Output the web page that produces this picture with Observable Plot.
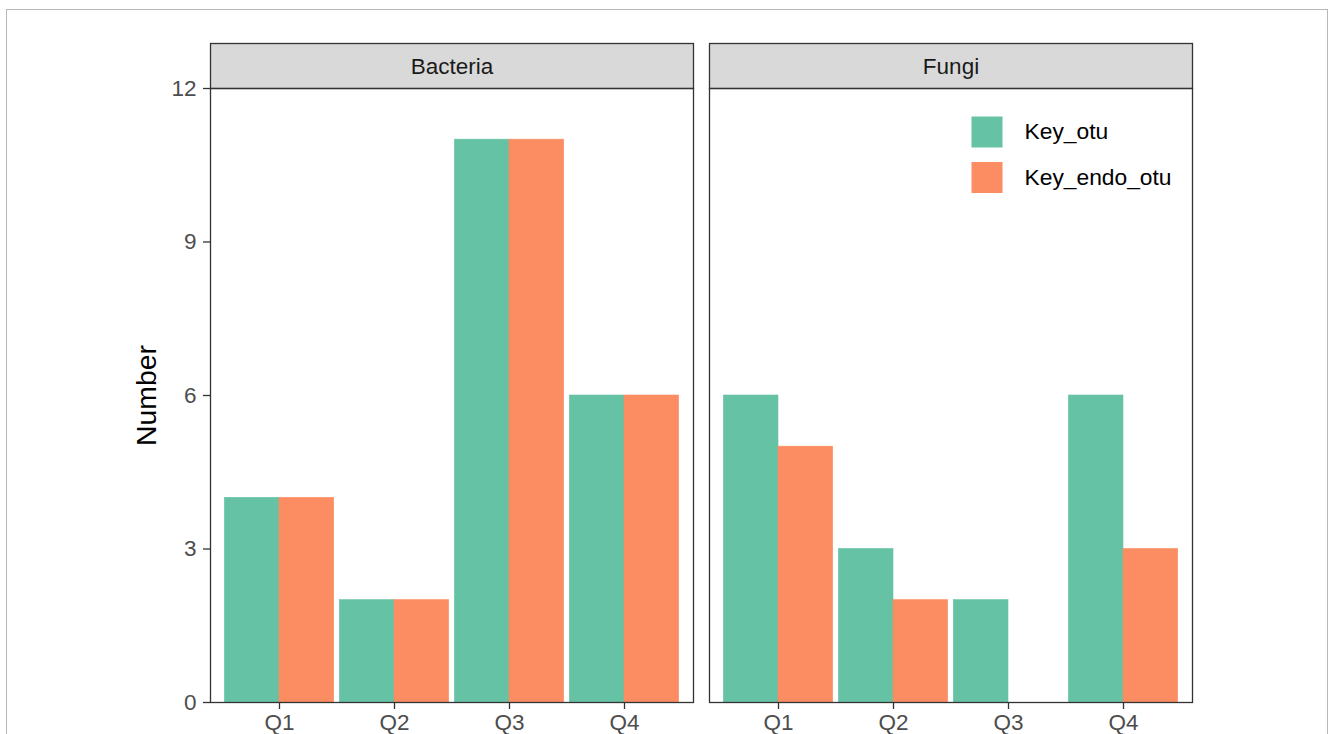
<!DOCTYPE html>
<html>
<head>
<meta charset="utf-8">
<script src="https://cdn.jsdelivr.net/npm/d3@7"></script>
<script src="https://cdn.jsdelivr.net/npm/@observablehq/plot@0.6"></script>
<style>
  html, body { margin: 0; padding: 0; background: white; }
  #wrap { position: relative; width: 1330px; height: 734px; overflow: hidden; }
  #border { position: absolute; left: 6px; top: 9px; width: 1322px; height: 800px; border: 1px solid #B8B8B8; pointer-events: none; box-sizing: border-box; }
  #chart { position: absolute; left: 0; top: 0; }
</style>
</head>
<body>
<div id="wrap"><div id="chart"></div><div id="border"></div></div>
<script>
const kingdoms = ["Bacteria", "Fungi"];
const quarters = ["Q1", "Q2", "Q3", "Q4"];
const series = ["Key_otu", "Key_endo_otu"];
const colors = ["#66C2A5", "#FC8D62"];
const bacteriaKeyOtu = [4, 2, 11, 6];
const bacteriaKeyEndoOtu = [4, 2, 11, 6];
const fungiKeyOtu = [6, 3, 2, 6];
const fungiKeyEndoOtu = [5, 2, 0, 3];
const yTicks = [0, 3, 6, 9, 12];

const valuesBy = {
  Bacteria: [bacteriaKeyOtu, bacteriaKeyEndoOtu],
  Fungi: [fungiKeyOtu, fungiKeyEndoOtu]
};
const rows = [];
for (const k of kingdoms) {
  valuesBy[k].forEach((vals, si) => {
    vals.forEach((v, qi) => rows.push({kingdom: k, quarter: quarters[qi], qi, si, series: series[si], value: v}));
  });
}

const font = "'Liberation Sans', Arial, sans-serif";
const tickFont = 22.5;
const half = 0.475;

const legendMarks = series.flatMap((s, i) => [
  Plot.dot([s], {fx: () => "Fungi", frameAnchor: "top-left", dx: 277.5, dy: 43.5 + 45.5 * i,
    symbol: "square", r: 17.49, fill: colors[i]}),
  Plot.text([s], {fx: () => "Fungi", frameAnchor: "top-left", dx: 315, dy: 43.5 + 45.5 * i,
    text: d => d, textAnchor: "start", lineAnchor: "middle", fontSize: 22.8, fill: "black"})
]);

const chart = Plot.plot({
  width: 1330,
  height: 734,
  marginLeft: 210,
  marginRight: 138,
  marginTop: 88,
  marginBottom: 32,
  style: {fontFamily: font, background: "transparent", overflow: "visible"},
  fx: {domain: kingdoms, paddingInner: 16 / 499, paddingOuter: 0, axis: null, label: null},
  x: {domain: [-0.6, 3.6], axis: null},
  y: {domain: [0, 12], axis: null},
  color: {domain: series, range: colors},
  marks: [
    Plot.frame({fill: "#D9D9D9", stroke: "#333333", strokeWidth: 1.3, insetTop: -45, insetBottom: 614}),
    Plot.text(kingdoms, {fx: d => d, text: d => d, frameAnchor: "top", dy: -21.5, lineAnchor: "middle",
      fontSize: tickFont, fill: "#1A1A1A"}),
    Plot.rectY(rows, {
      fx: "kingdom",
      x1: d => d.qi - half + d.si * half,
      x2: d => d.qi + d.si * half,
      y: "value",
      fill: "series",
      stroke: "series",
      strokeWidth: 0.6
    }),
    Plot.frame({stroke: "#333333", strokeWidth: 1.3}),
    Plot.axisY({ticks: yTicks, tickSize: 7, tickPadding: 7, fontSize: tickFont, color: "#4D4D4D",
      stroke: "#333333", strokeWidth: 1.3, label: null}),
    Plot.axisX({ticks: [0, 1, 2, 3], tickFormat: i => quarters[i], tickSize: 7, tickPadding: 5,
      fontSize: tickFont, color: "#4D4D4D", stroke: "#333333", strokeWidth: 1.3, label: null}),
    Plot.text(["Number"], {fx: () => "Bacteria", frameAnchor: "left", dx: -63.5, rotate: -90,
      text: d => d, fontSize: 28.4, fill: "black", textAnchor: "middle", lineAnchor: "middle"}),
    ...legendMarks
  ]
});
document.getElementById("chart").appendChild(chart);
</script>
</body>
</html>
